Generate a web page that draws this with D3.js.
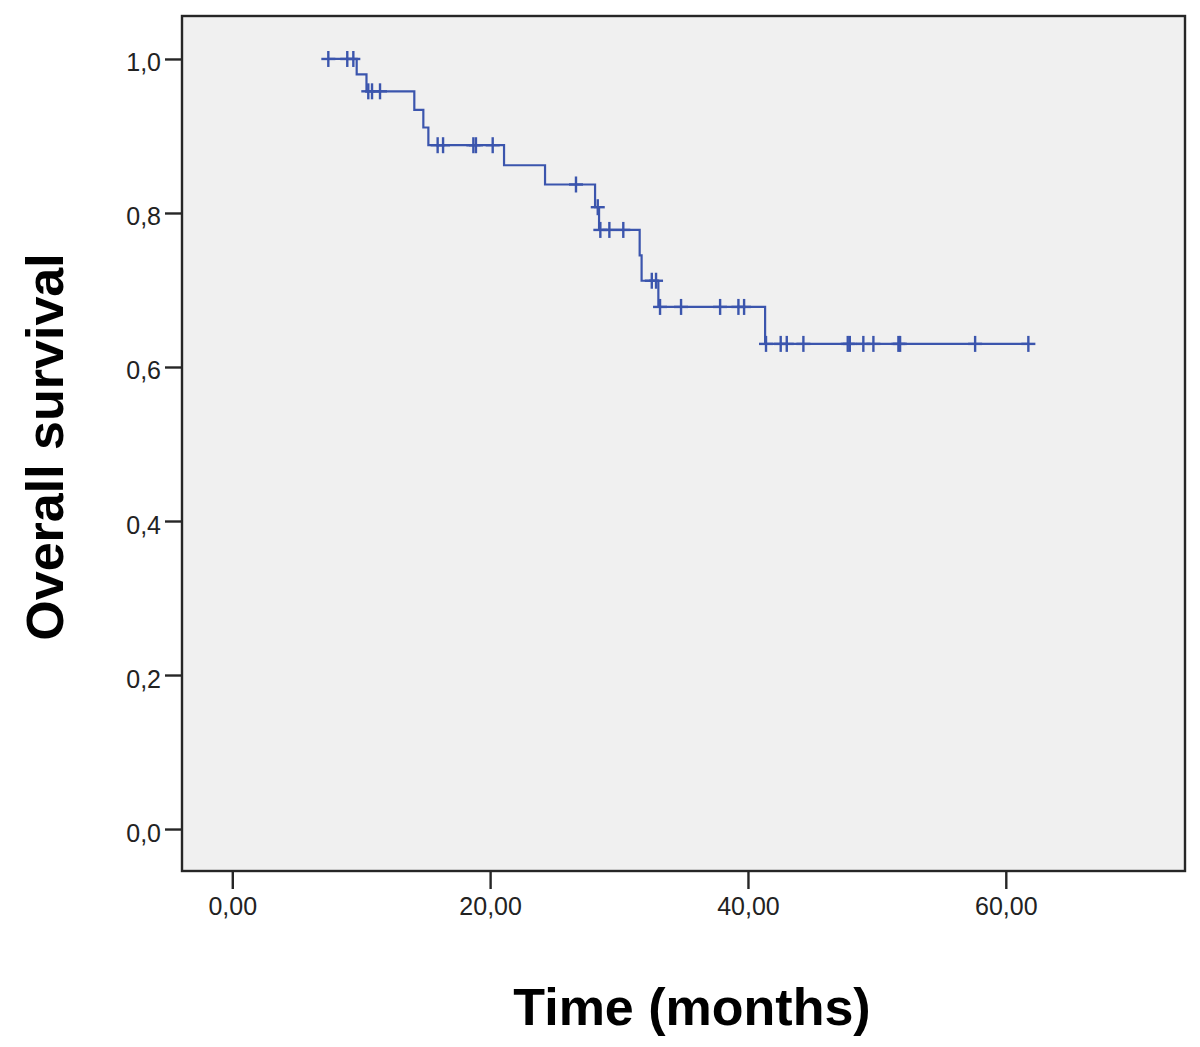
<!DOCTYPE html>
<html>
<head>
<meta charset="utf-8">
<script src="https://cdn.jsdelivr.net/npm/d3@7/dist/d3.min.js"></script>
<style>
  html, body { margin: 0; padding: 0; background: #fff; }
  svg { display: block; }
  text { font-family: "Liberation Sans", Arial, sans-serif; }
</style>
</head>
<body>
<svg id="chart" width="1200" height="1047"></svg>
<script>
// ---- data ----
const startTime = 7.45;            // first follow-up time (months)
const endTime = 61.75;             // last follow-up time (months)
const eventTimes = [9.65, 10.41, 14.12, 14.82, 15.21, 21.08, 24.26, 28.14, 28.45, 31.6, 31.75, 33.05, 41.33];
const eventSurv  = [0.980, 0.958, 0.934, 0.911, 0.888, 0.862, 0.837, 0.8075, 0.778, 0.745, 0.712, 0.678, 0.630];
const censorTimes = [7.45, 8.92, 9.39, 10.55, 10.84, 11.46, 15.93, 16.35, 18.7, 18.9, 20.2,
  26.66, 28.35, 28.55, 29.25, 30.33, 32.54, 32.87, 33.18, 34.81, 37.84, 39.26, 39.7,
  41.4, 42.54, 43.01, 44.3, 47.74, 47.9, 48.95, 49.73, 51.67, 51.8, 57.62, 61.75];
const xTicks = [0, 20, 40, 60];
const yTicks = [0, 0.2, 0.4, 0.6, 0.8, 1.0];
const xTitle = "Time (months)";
const yTitle = "Overall survival";

// ---- layout ----
const svg = d3.select("#chart");
const plot = { left: 182, right: 1185, top: 16, bottom: 871 };
const x = d3.scaleLinear().domain([-3.9, 73.9]).range([plot.left, plot.right]);
const y = d3.scaleLinear().domain([-0.0545, 1.0558]).range([plot.bottom, plot.top]);
const lineColor = "#3b55ad";
const axisColor = "#262626";

svg.append("rect")
  .attr("x", plot.left).attr("y", plot.top)
  .attr("width", plot.right - plot.left).attr("height", plot.bottom - plot.top)
  .attr("fill", "#f0f0f0");

const comma = (v, d) => v.toFixed(d).replace(".", ",");

// y axis
const yAxis = svg.append("g")
  .attr("transform", `translate(${plot.left},0)`)
  .call(d3.axisLeft(y).tickValues(yTicks).tickSize(17).tickPadding(4).tickFormat(v => comma(v, 1)));
yAxis.select(".domain").remove();
yAxis.selectAll(".tick line").attr("stroke", axisColor).attr("stroke-width", 2.4);
yAxis.selectAll(".tick text")
  .attr("font-size", 25).attr("fill", "#222").attr("dy", "0.48em");

// x axis
const xAxis = svg.append("g")
  .attr("transform", `translate(0,${plot.bottom})`)
  .call(d3.axisBottom(x).tickValues(xTicks).tickSize(18).tickPadding(8).tickFormat(v => comma(v, 2)));
xAxis.select(".domain").remove();
xAxis.selectAll(".tick line").attr("stroke", axisColor).attr("stroke-width", 2.4);
xAxis.selectAll(".tick text")
  .attr("font-size", 25).attr("fill", "#222");

// frame
svg.append("rect")
  .attr("x", plot.left).attr("y", plot.top)
  .attr("width", plot.right - plot.left).attr("height", plot.bottom - plot.top)
  .attr("fill", "none").attr("stroke", axisColor).attr("stroke-width", 2.4);

// survival step curve
const pts = [[startTime, 1.0]];
eventTimes.forEach((t, i) => pts.push([t, eventSurv[i]]));
pts.push([endTime, eventSurv[eventSurv.length - 1]]);
const line = d3.line().x(d => x(d[0])).y(d => y(d[1])).curve(d3.curveStepAfter);
svg.append("path")
  .attr("d", line(pts))
  .attr("fill", "none").attr("stroke", lineColor).attr("stroke-width", 2.2);

// censor marks
function survAt(t) {
  let s = 1.0;
  eventTimes.forEach((et, i) => { if (et <= t) s = eventSurv[i]; });
  return s;
}
const cg = svg.append("g").attr("stroke", lineColor).attr("stroke-width", 2.4);
censorTimes.forEach(t => {
  const cx = x(t), cy = y(survAt(t));
  cg.append("line").attr("x1", cx).attr("x2", cx).attr("y1", cy - 8).attr("y2", cy + 8);
  cg.append("line").attr("x1", cx - 7).attr("x2", cx + 7).attr("y1", cy).attr("y2", cy);
});

// axis titles
svg.append("text")
  .attr("x", 692).attr("y", 1025)
  .attr("text-anchor", "middle")
  .attr("font-size", 52).attr("font-weight", "bold").attr("fill", "#000")
  .text(xTitle);
svg.append("text")
  .attr("transform", "translate(63,447) rotate(-90)")
  .attr("text-anchor", "middle")
  .attr("font-size", 52).attr("font-weight", "bold").attr("fill", "#000")
  .text(yTitle);
</script>
</body>
</html>
